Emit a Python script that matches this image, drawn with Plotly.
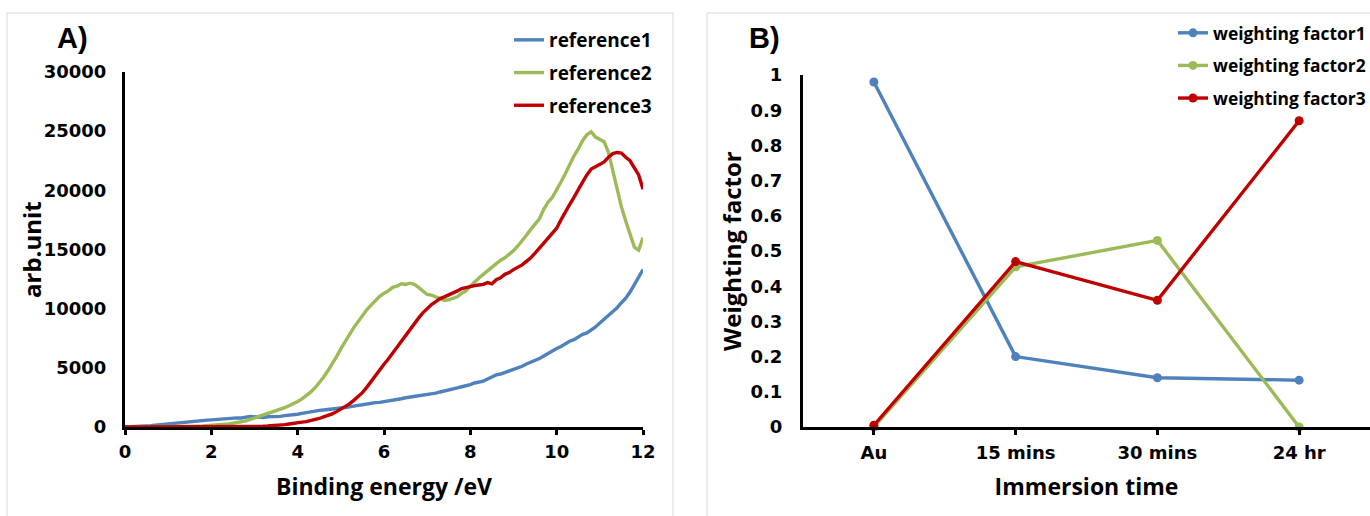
import plotly.graph_objects as go

# ---- Panel A: reference spectra (binding energy in eV, intensity in arb. units) ----
energy = [0.0, 0.1, 0.2, 0.3, 0.4, 0.5, 0.6, 0.7, 0.8, 0.9,
          1.0, 1.1, 1.2, 1.3, 1.4, 1.5, 1.6, 1.7, 1.8, 1.9,
          2.0, 2.1, 2.2, 2.3, 2.4, 2.5, 2.6, 2.7, 2.8, 2.9,
          3.0, 3.1, 3.2, 3.3, 3.4, 3.5, 3.6, 3.7, 3.8, 3.9,
          4.0, 4.1, 4.2, 4.3, 4.4, 4.5, 4.6, 4.7, 4.8, 4.9,
          5.0, 5.1, 5.2, 5.3, 5.4, 5.5, 5.6, 5.7, 5.8, 5.9,
          6.0, 6.1, 6.2, 6.3, 6.4, 6.5, 6.6, 6.7, 6.8, 6.9,
          7.0, 7.1, 7.2, 7.3, 7.4, 7.5, 7.6, 7.7, 7.8, 7.9,
          8.0, 8.1, 8.2, 8.3, 8.4, 8.5, 8.6, 8.7, 8.8, 8.9,
          9.0, 9.1, 9.2, 9.3, 9.4, 9.5, 9.6, 9.7, 9.8, 9.9,
          10.0, 10.1, 10.2, 10.3, 10.4, 10.5, 10.6, 10.7, 10.8, 10.9,
          11.0, 11.1, 11.2, 11.3, 11.4, 11.5, 11.6, 11.7, 11.8, 11.9,
          12.0]

reference1 = [0, 10, 30, 40, 70, 90, 120, 150, 190, 210,
              260, 300, 320, 370, 390, 440, 460, 510, 530, 580,
              600, 640, 630, 690, 720, 740, 770, 760, 850, 900,
              860, 830, 810, 860, 850, 880, 900, 960, 980, 1020,
              1080, 1150, 1230, 1280, 1330, 1400, 1440, 1470, 1500, 1580,
              1630, 1650, 1700, 1790, 1830, 1880, 1950, 1980, 2060, 2080,
              2130, 2220, 2290, 2320, 2390, 2470, 2520, 2560, 2620, 2720,
              2780, 2800, 2860, 2960, 3040, 3080, 3170, 3300, 3400, 3470,
              3580, 3720, 3820, 3880, 4060, 4250, 4400, 4480, 4600, 4780,
              4900, 5000, 5130, 5320, 5470, 5600, 5780, 6000, 6230, 6450,
              6630, 6800, 7020, 7250, 7380, 7600, 7830, 7950, 8180, 8450,
              8780, 9100, 9380, 9700, 10080, 10500, 10880, 11400, 12000, 12600,
              13300]

reference2 = [0, 0, 0, 0, 0, 0, 0, 10, 10, 10,
              20, 20, 30, 30, 40, 50, 60, 70, 80, 100,
              120, 150, 180, 220, 260, 320, 380, 440, 520, 640,
              760, 880, 1000, 1100, 1250, 1380, 1500, 1640, 1800, 1950,
              2150, 2380, 2650, 2950, 3300, 3700, 4200, 4750, 5300, 5950,
              6600, 7250, 7800, 8400, 8900, 9450, 9900, 10300, 10700, 11050,
              11300, 11500, 11800, 11900, 12100, 12050, 12150, 12050, 11800, 11500,
              11200, 11150, 11000, 10800, 10700, 10750, 10850, 11000, 11300, 11500,
              11900, 12300, 12600, 12900, 13200, 13450, 13800, 14100, 14300, 14600,
              14900, 15300, 15700, 16200, 16700, 17100, 17600, 18400, 19000, 19400,
              20000, 20700, 21400, 22200, 22900, 23500, 24200, 24700, 24950, 24500,
              24300, 24100, 23200, 21600, 19900, 18600, 17400, 16300, 15200, 14950,
              16000]

reference3 = [0, 0, 0, 0, 0, 0, 0, 0, 0, 0,
              0, 0, 0, 0, 0, 0, 0, 0, 10, 10,
              10, 10, 10, 10, 10, 20, 20, 20, 20, 30,
              30, 40, 60, 80, 100, 120, 150, 200, 250, 320,
              380, 410, 450, 520, 600, 720, 850, 960, 1100, 1300,
              1500, 1700, 1950, 2250, 2550, 2900, 3350, 3850, 4400, 4900,
              5300, 5750, 6250, 6800, 7300, 7800, 8300, 8750, 9200, 9650,
              10000, 10350, 10600, 10850, 11000, 11150, 11300, 11500, 11700, 11800,
              11900, 11950, 12000, 12050, 12200, 12100, 12450, 12600, 12900, 13050,
              13300, 13500, 13700, 14000, 14300, 14700, 15100, 15500, 15900, 16300,
              16800, 17500, 18200, 18800, 19400, 20100, 20700, 21300, 21800, 22000,
              22200, 22400, 22800, 23100, 23200, 23150, 22800, 22500, 21900, 21300,
              20100]

# ---- Panel B: weighting factors vs immersion time ----
immersion = ["Au", "15 mins", "30 mins", "24 hr"]
weighting1 = [0.98, 0.20, 0.14, 0.133]
weighting2 = [0.0, 0.455, 0.53, 0.0]
weighting3 = [0.005, 0.47, 0.36, 0.87]

BLUE = "#4f81bd"
GREEN = "#9bbb59"
RED = "#c00000"

W, H = 1370, 516
TICK_FONT = dict(family="DejaVu Sans", size=18, color="black", weight="bold")
XTITLE_FONT = dict(family="Open Sans", size=23, color="black", weight="bold")
YTITLE_FONT = dict(family="Open Sans", size=24, color="black", weight="bold")
LEGEND_FONT = dict(family="Open Sans", size=19, color="black", weight="bold")
LEGEND2_FONT = dict(family="Open Sans", size=17.4, color="black", weight="bold")

fig = go.Figure()

for name, ys, col in [("reference1", reference1, BLUE),
                      ("reference2", reference2, GREEN),
                      ("reference3", reference3, RED)]:
    fig.add_trace(go.Scatter(x=energy, y=ys, mode="lines", name=name,
                             line=dict(color=col, width=3.4),
                             xaxis="x", yaxis="y", legend="legend",
                             legendgroup=name))

for name, ys, col in [("weighting factor1", weighting1, BLUE),
                      ("weighting factor2", weighting2, GREEN),
                      ("weighting factor3", weighting3, RED)]:
    fig.add_trace(go.Scatter(x=immersion, y=ys, mode="lines+markers", name=name,
                             line=dict(color=col, width=3.4),
                             marker=dict(color=col, size=9),
                             xaxis="x2", yaxis="y2", legend="legend2",
                             legendgroup=name, cliponaxis=False))

def px_x(p):
    return p / W

def px_y(p):
    return 1 - p / H

common_axis = dict(showline=True, linecolor="black", linewidth=3, showgrid=False,
                   zeroline=False, tickfont=TICK_FONT,
                   automargin=False, fixedrange=True)

fig.update_layout(
    width=W, height=H,
    margin=dict(l=0, r=0, t=0, b=0, autoexpand=False),
    paper_bgcolor="white", plot_bgcolor="white",
    xaxis=dict(common_axis, domain=[px_x(125), px_x(643)], range=[0, 12], dtick=2,
               ticks="outside", ticklen=5, tickwidth=3, tickcolor="black",
               ticklabelstandoff=1, anchor="y",
               title=dict(text="Binding energy /eV", font=XTITLE_FONT, standoff=19)),
    yaxis=dict(common_axis, domain=[px_y(427), px_y(72)], range=[0, 30000], dtick=5000,
               tickformat="d", ticks="", ticklabelstandoff=12, anchor="x"),
    xaxis2=dict(common_axis, domain=[px_x(803), 1.0], range=[-0.5, 3.5],
                type="category", ticks="outside", ticklen=5, tickwidth=3,
                tickcolor="black", ticklabelstandoff=2, anchor="y2",
                title=dict(text="Immersion time", font=XTITLE_FONT, standoff=18)),
    yaxis2=dict(common_axis, domain=[px_y(427), px_y(75)], range=[0, 1], dtick=0.1,
                ticks="", ticklabelstandoff=14, anchor="x2"),
    legend=dict(x=px_x(509), y=px_y(21), xanchor="left", yanchor="top",
                font=LEGEND_FONT, tracegroupgap=5, bgcolor="rgba(0,0,0,0)",
                itemwidth=30),
    legend2=dict(x=px_x(1173), y=px_y(15), xanchor="left", yanchor="top",
                 font=LEGEND2_FONT, tracegroupgap=7, bgcolor="rgba(0,0,0,0)",
                 itemwidth=30),
    showlegend=True,
    font=dict(family="DejaVu Sans", color="black"),
)

# Panel frames
fig.add_shape(type="rect", xref="paper", yref="paper",
              x0=px_x(7), x1=px_x(673), y0=-0.05, y1=px_y(13),
              line=dict(color="#d9d9d9", width=1), layer="below")
fig.add_shape(type="rect", xref="paper", yref="paper",
              x0=px_x(707), x1=1.05, y0=-0.05, y1=px_y(13),
              line=dict(color="#d9d9d9", width=1), layer="below")

# Vertical axis titles
fig.add_annotation(text="arb.unit", xref="paper", yref="paper",
                   x=px_x(31), y=px_y(250), xanchor="center", yanchor="middle",
                   textangle=-90, showarrow=False, font=YTITLE_FONT)
fig.add_annotation(text="Weighting factor", xref="paper", yref="paper",
                   x=px_x(731), y=px_y(251), xanchor="center", yanchor="middle",
                   textangle=-90, showarrow=False, font=YTITLE_FONT)

# Panel letters
fig.add_annotation(text="<b>A)</b>", xref="paper", yref="paper",
                   x=px_x(72), y=px_y(38), xanchor="center", yanchor="middle",
                   showarrow=False, borderpad=0,
                   font=dict(family="Liberation Sans", size=29, color="black"))
fig.add_annotation(text="<b>B)</b>", xref="paper", yref="paper",
                   x=px_x(764), y=px_y(38), xanchor="center", yanchor="middle",
                   showarrow=False, borderpad=0,
                   font=dict(family="Liberation Sans", size=29, color="black"))

fig.write_html("out.html")
